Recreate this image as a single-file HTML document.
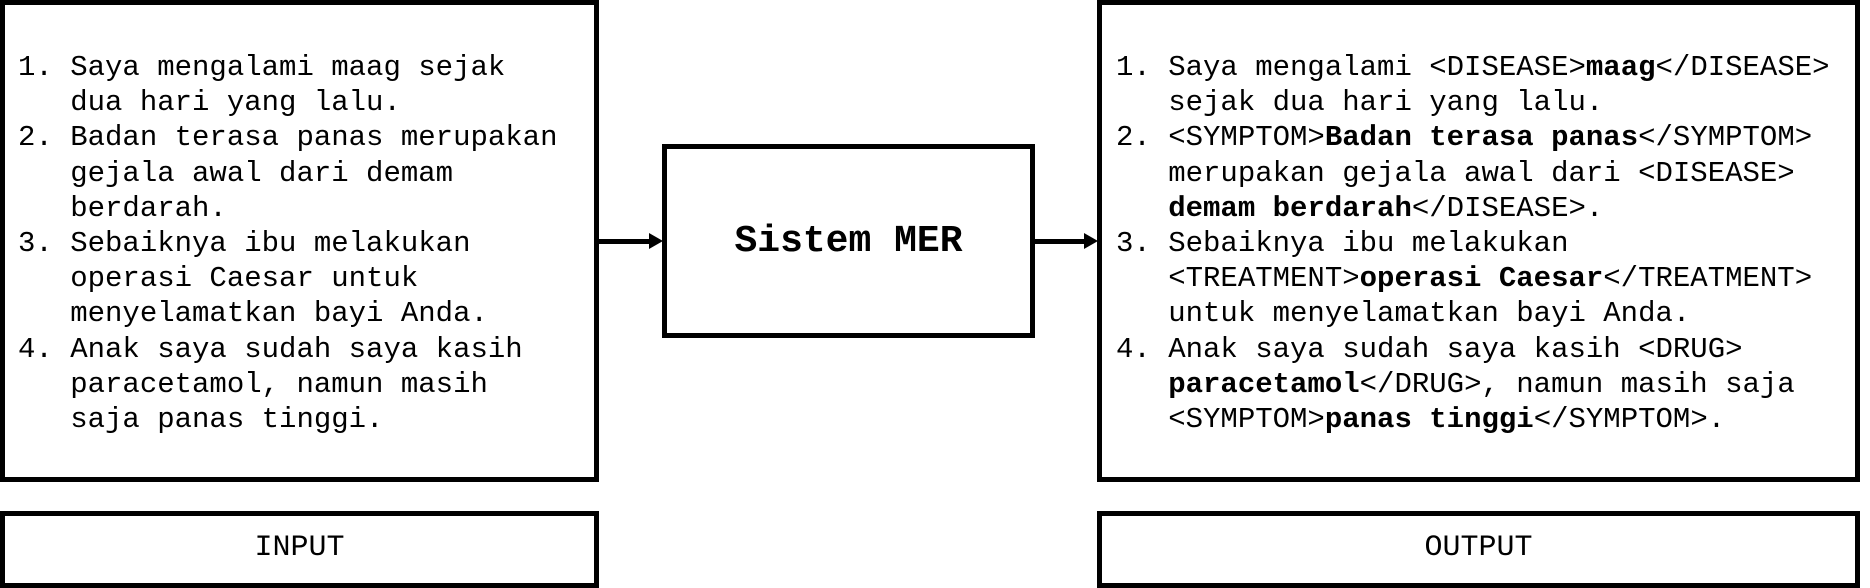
<!DOCTYPE html>
<html><head><meta charset="utf-8"><style>
body{margin:0;width:1870px;height:588px;background:#fff;position:relative;overflow:hidden;font-family:"Liberation Mono",monospace;color:#000}
.b{position:absolute;border:5px solid #000;box-sizing:border-box}
.t{position:absolute;white-space:pre;font-size:29px;line-height:35.2px}
.lbl{position:absolute;font-size:30px;text-align:center;line-height:75px}
.ln{position:absolute;height:5px;background:#000}
.ah{position:absolute;width:0;height:0;border-top:8px solid transparent;border-bottom:8px solid transparent;border-left:14px solid #000}
</style></head><body>
<div class="b" style="left:0;top:0;width:599px;height:482px"></div>
<div class="b" style="left:0;top:511px;width:599px;height:77px"></div>
<div class="b" style="left:662px;top:144px;width:373px;height:194px"></div>
<div class="b" style="left:1097px;top:0;width:763px;height:482px"></div>
<div class="b" style="left:1097px;top:511px;width:763px;height:77px"></div>
<div class="lbl" style="left:0;top:511px;width:599px">INPUT</div>
<div class="lbl" style="left:1097px;top:511px;width:763px">OUTPUT</div>
<div style="position:absolute;left:662px;top:144px;width:373px;height:194px;display:flex;align-items:center;justify-content:center;font-weight:bold;font-size:38px">Sistem MER</div>
<div class="ln" style="left:597px;top:239px;width:54px"></div>
<div class="ah" style="left:649px;top:233px"></div>
<div class="ln" style="left:1033px;top:239px;width:52px"></div>
<div class="ah" style="left:1084px;top:233px"></div>
<div class="t" style="left:18px;top:50px">1. Saya mengalami maag sejak
   dua hari yang lalu.
2. Badan terasa panas merupakan
   gejala awal dari demam
   berdarah.
3. Sebaiknya ibu melakukan
   operasi Caesar untuk
   menyelamatkan bayi Anda.
4. Anak saya sudah saya kasih
   paracetamol, namun masih
   saja panas tinggi.</div>
<div class="t" style="left:1116px;top:50px">1. Saya mengalami &lt;DISEASE&gt;<b>maag</b>&lt;/DISEASE&gt;
   sejak dua hari yang lalu.
2. &lt;SYMPTOM&gt;<b>Badan terasa panas</b>&lt;/SYMPTOM&gt;
   merupakan gejala awal dari &lt;DISEASE&gt;
   <b>demam berdarah</b>&lt;/DISEASE&gt;.
3. Sebaiknya ibu melakukan
   &lt;TREATMENT&gt;<b>operasi Caesar</b>&lt;/TREATMENT&gt;
   untuk menyelamatkan bayi Anda.
4. Anak saya sudah saya kasih &lt;DRUG&gt;
   <b>paracetamol</b>&lt;/DRUG&gt;, namun masih saja
   &lt;SYMPTOM&gt;<b>panas tinggi</b>&lt;/SYMPTOM&gt;.</div>
</body></html>
